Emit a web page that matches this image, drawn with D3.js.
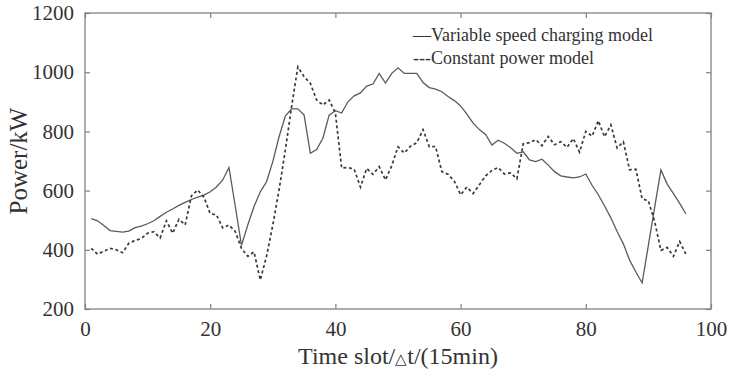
<!DOCTYPE html>
<html>
<head>
<meta charset="utf-8">
<script src="https://cdn.jsdelivr.net/npm/d3@7"></script>
<style>
  body { margin: 0; background: #fff; }
  text { font-family: "Liberation Serif", "Times New Roman", serif; fill: #333; }
</style>
</head>
<body>
<div id="chart"></div>
<script>
// power per 15-min slot, slots 1..96
const variableSpeed = [
  505, 498, 482, 465, 462, 460, 463, 475, 480, 488,
  498, 513, 527, 538, 550, 560, 570, 578, 585, 596,
  612, 636, 678, 548, 415, 484, 546, 596, 630, 698,
  782, 852, 876, 876, 855, 726, 739, 777, 855, 870,
  862, 900, 920, 930, 953, 960, 996, 963, 996, 1015,
  996, 996, 996, 965, 948, 943, 934, 918, 904, 886,
  858, 828, 806, 790, 754, 770, 760, 745, 726, 731,
  704, 698, 706, 686, 664, 650, 646, 643, 646, 656,
  618, 586, 548, 508, 462, 420, 365, 325, 288, 416,
  543, 670, 622, 590, 557, 521
];
const constantPower = [
  405, 385, 395, 405, 400, 390, 422, 432, 438, 456,
  461, 440, 498, 456, 503, 484, 582, 602, 578, 522,
  518, 474, 484, 462, 405, 378, 393, 298, 378, 484,
  602, 737, 883, 1018, 985, 962, 906, 889, 906, 862,
  676, 678, 672, 612, 675, 655, 681, 636, 684, 748,
  727, 750, 762, 806, 748, 749, 664, 655, 632, 586,
  612, 590, 620, 650, 668, 678, 656, 660, 640, 758,
  762, 772, 752, 783, 755, 765, 746, 776, 730, 800,
  784, 836, 782, 822, 744, 765, 670, 672, 572, 566,
  495, 398, 408, 378, 428, 385
];
const xTicks = [0, 20, 40, 60, 80, 100];
const yTicks = [200, 400, 600, 800, 1000, 1200];
const legendLabels = ["\u2014Variable speed charging model", "---Constant power model"];

const width = 729, height = 380;
const margin = { top: 13, right: 18, bottom: 71, left: 85 };

const svg = d3.select("#chart").append("svg")
  .attr("width", width)
  .attr("height", height);

const x = d3.scaleLinear().domain([0, 100]).range([margin.left, width - margin.right]);
const y = d3.scaleLinear().domain([200, 1200]).range([height - margin.bottom, margin.top]);

const axisColor = "#808080";

// ticks pointing inward on all four sides
function styleAxis(g) {
  g.select(".domain").remove();
  g.selectAll(".tick line").attr("stroke", axisColor).attr("stroke-width", 1.2);
  g.selectAll(".tick text").attr("font-size", "21px").attr("fill", "#333");
}

svg.append("g")
  .attr("transform", `translate(0,${y(200)})`)
  .call(d3.axisBottom(x).tickValues(xTicks).tickFormat(d3.format("d"))
    .tickSizeInner(-5).tickSizeOuter(0).tickPadding(12))
  .call(styleAxis);

svg.append("g")
  .attr("transform", `translate(0,${y(1200)})`)
  .call(d3.axisTop(x).tickValues(xTicks).tickSizeInner(-5).tickSizeOuter(0).tickFormat(""))
  .call(styleAxis);

svg.append("g")
  .attr("transform", `translate(${x(0)},0)`)
  .call(d3.axisLeft(y).tickValues(yTicks).tickFormat(d3.format("d"))
    .tickSizeInner(-5).tickSizeOuter(0).tickPadding(11))
  .call(styleAxis);

svg.append("g")
  .attr("transform", `translate(${x(100)},0)`)
  .call(d3.axisRight(y).tickValues(yTicks).tickSizeInner(-5).tickSizeOuter(0).tickFormat(""))
  .call(styleAxis);

svg.append("rect")
  .attr("x", x(0)).attr("y", y(1200))
  .attr("width", x(100) - x(0)).attr("height", y(200) - y(1200))
  .attr("fill", "none").attr("stroke", axisColor).attr("stroke-width", 1.3);

const line = d3.line()
  .x((d, i) => x(i + 1))
  .y(d => y(d));

svg.append("path")
  .datum(variableSpeed)
  .attr("d", line)
  .attr("fill", "none")
  .attr("stroke", "#5a5a5a")
  .attr("stroke-width", 1.3);

svg.append("path")
  .datum(constantPower)
  .attr("d", line)
  .attr("fill", "none")
  .attr("stroke", "#3a3a3a")
  .attr("stroke-width", 1.7)
  .attr("stroke-dasharray", "3,2.6");

// legend as plain text, like the original
svg.selectAll(".legend")
  .data(legendLabels)
  .join("text")
  .attr("class", "legend")
  .attr("x", 413)
  .attr("y", (d, i) => 41 + i * 22.5)
  .attr("font-size", "18px")
  .text(d => d);

const xTitle = svg.append("text")
  .attr("x", (x(0) + x(100)) / 2)
  .attr("y", 364)
  .attr("text-anchor", "middle")
  .attr("font-size", "24px");
xTitle.append("tspan").text("Time slot/");
xTitle.append("tspan").attr("font-size", "15px").text("\u25B3");
xTitle.append("tspan").text("t/(15min)");

svg.append("text")
  .attr("transform", `translate(27,${(y(200) + y(1200)) / 2}) rotate(-90)`)
  .attr("text-anchor", "middle")
  .attr("font-size", "25px")
  .text("Power/kW");
</script>
</body>
</html>
